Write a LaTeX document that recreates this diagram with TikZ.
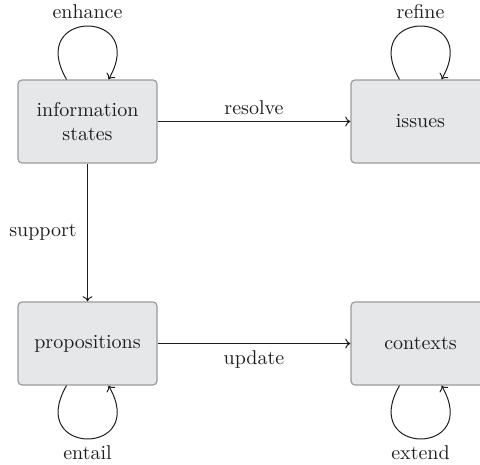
\documentclass[tikz,border=0pt]{standalone}
\usetikzlibrary{arrows.meta}
\definecolor{boxfill}{RGB}{230,231,233}
\definecolor{boxline}{RGB}{155,155,155}
\definecolor{ink}{RGB}{30,30,30}
\begin{document}
\begin{tikzpicture}[x=0.5pt,y=-0.5pt,
  statebox/.style={draw=boxline,line width=0.6pt,fill=boxfill,rounded corners=2pt,
    minimum width=69.5pt,minimum height=41.5pt,align=center,inner sep=0pt,text=ink},
  conn/.style={draw=ink,line width=0.5pt,-{To[length=2.6pt,width=5pt]}},
  lbl/.style={text=ink}]
\useasboundingbox (0,0) rectangle (480,464);
\node[statebox] (info) at (87.5,121.5) {information\\states};
\node[statebox] (iss) at (420.5,121.5) {issues};
\node[statebox] (prop) at (87.5,343.5) {propositions};
\node[statebox] (ctx) at (420.5,343.5) {contexts};
\draw[conn] (info.east) -- node[lbl,above] (lres) {resolve} (iss.west);
\draw[conn] (prop.east) -- node[lbl,below] (lupd) {update} (ctx.west);
\draw[conn] (info.south) -- node[lbl,left=1.8pt] (lsup) {support} (prop.north);
\draw[conn] ([xshift=-10.5pt]info.north) to[out=120,in=60,distance=41pt]
  node[lbl,above] (lenh) {enhance} ([xshift=10.5pt]info.north);
\draw[conn] ([xshift=-10.5pt]iss.north) to[out=120,in=60,distance=41pt]
  node[lbl,above] (lref) {refine} ([xshift=10.5pt]iss.north);
\draw[conn] ([xshift=-10.5pt]prop.south) to[out=-120,in=-60,distance=41pt]
  node[lbl,below] (lent) {entail} ([xshift=10.5pt]prop.south);
\draw[conn] ([xshift=-10.5pt]ctx.south) to[out=-120,in=-60,distance=41pt]
  node[lbl,below] (lext) {extend} ([xshift=10.5pt]ctx.south);
\end{tikzpicture}
\end{document}
